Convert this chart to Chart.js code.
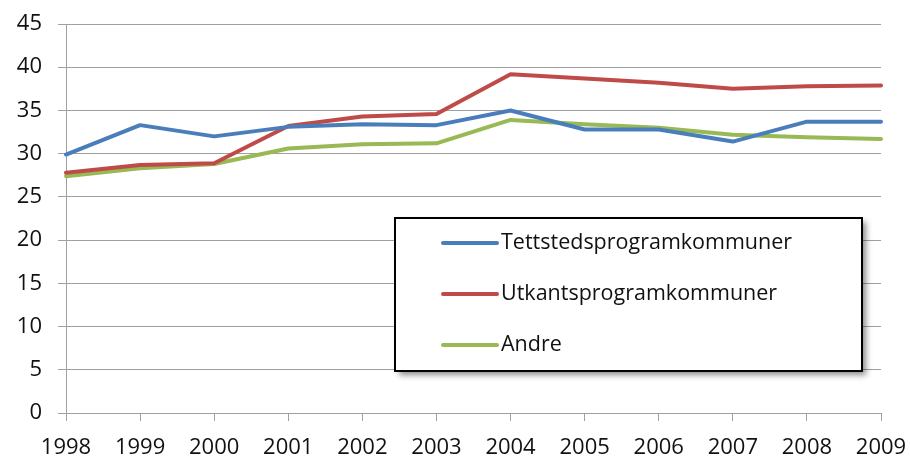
<!DOCTYPE html>
<html>
<head>
<meta charset="utf-8">
<script src="https://cdn.jsdelivr.net/npm/chart.js@4.4.1/dist/chart.umd.min.js"></script>
<style>
  html, body { margin: 0; padding: 0; background: #fff; }
  #wrap { width: 910px; height: 457px; }
</style>
</head>
<body>
<div id="wrap"><canvas id="lineChart"></canvas></div>
<script>
const years = ["1998", "1999", "2000", "2001", "2002", "2003", "2004", "2005", "2006", "2007", "2008", "2009"];
const tettsteds = [29.9, 33.3, 32.0, 33.1, 33.4, 33.3, 35.0, 32.8, 32.8, 31.4, 33.7, 33.7];
const utkants = [27.8, 28.7, 28.9, 33.2, 34.3, 34.6, 39.2, 38.7, 38.2, 37.5, 37.8, 37.9];
const andre = [27.4, 28.3, 28.8, 30.6, 31.1, 31.2, 33.9, 33.4, 33.0, 32.2, 31.9, 31.7];
const seriesNames = ["Tettstedsprogramkommuner", "Utkantsprogramkommuner", "Andre"];

const fontFamily = "'Open Sans', 'DejaVu Sans', sans-serif";

// legend drawn as a framed box inside the plot, like the Excel original
const boxLegend = {
  id: "boxLegend",
  afterDraw(chart) {
    const ctx = chart.ctx;
    const area = chart.chartArea;
    const x = area.left + 329;
    const y = area.top + 194;
    const w = 467;
    const h = 153;

    ctx.save();
    ctx.shadowColor = "rgba(0,0,0,0.45)";
    ctx.shadowBlur = 6;
    ctx.shadowOffsetX = 4;
    ctx.shadowOffsetY = 4;
    ctx.fillStyle = "#fff";
    ctx.fillRect(x, y, w, h);
    ctx.restore();

    ctx.save();
    ctx.strokeStyle = "#000";
    ctx.lineWidth = 2;
    ctx.strokeRect(x, y, w, h);

    ctx.font = "21.5px " + fontFamily;
    ctx.textBaseline = "middle";
    ctx.fillStyle = "#111";
    chart.data.datasets.forEach(function (ds, i) {
      const rowY = y + 25 + i * 51;
      ctx.beginPath();
      ctx.strokeStyle = ds.borderColor;
      ctx.lineWidth = 4;
      ctx.lineCap = "round";
      ctx.moveTo(x + 48, rowY);
      ctx.lineTo(x + 102, rowY);
      ctx.stroke();
      ctx.fillText(ds.label, x + 106, rowY);
    });
    ctx.restore();
  },
};

function makeChart() {
  const ctx = document.getElementById("lineChart").getContext("2d");
  new Chart(ctx, {
    type: "line",
    data: {
      labels: years,
      datasets: [
        { label: seriesNames[0], data: tettsteds, borderColor: "#4a7ebb" },
        { label: seriesNames[1], data: utkants, borderColor: "#be4b48" },
        { label: seriesNames[2], data: andre, borderColor: "#98b954" },
      ],
    },
    options: {
      responsive: true,
      maintainAspectRatio: false,
      animation: false,
      elements: {
        line: { borderWidth: 4, tension: 0, borderJoinStyle: "round", borderCapStyle: "round" },
        point: { radius: 0, hoverRadius: 0 },
      },
      layout: { padding: { top: 24, right: 29, left: 0, bottom: 0 } },
      scales: {
        x: {
          offset: false,
          grid: { display: true, drawOnChartArea: false, tickLength: 8, color: "#a0a0a0" },
          border: { color: "#a0a0a0" },
          ticks: { color: "#111", font: { family: fontFamily, size: 22 }, padding: 14, maxRotation: 0, autoSkip: false },
          afterFit: function (scale) {
            scale.height = 44;
            scale.paddingLeft = 0;
            scale.paddingRight = 0;
          },
        },
        y: {
          min: 0,
          max: 45,
          grid: { color: "#a0a0a0", tickLength: 8 },
          border: { color: "#a0a0a0" },
          ticks: { stepSize: 5, color: "#111", font: { family: fontFamily, size: 22 }, padding: 16 },
          afterFit: function (scale) {
            scale.width = 66;
            scale.paddingTop = 0;
            scale.paddingBottom = 0;
          },
        },
      },
      plugins: {
        legend: { display: false },
        tooltip: { enabled: false },
      },
    },
    plugins: [boxLegend],
  });
}

window.onload = function () {
  makeChart();
};
</script>
</body>
</html>
